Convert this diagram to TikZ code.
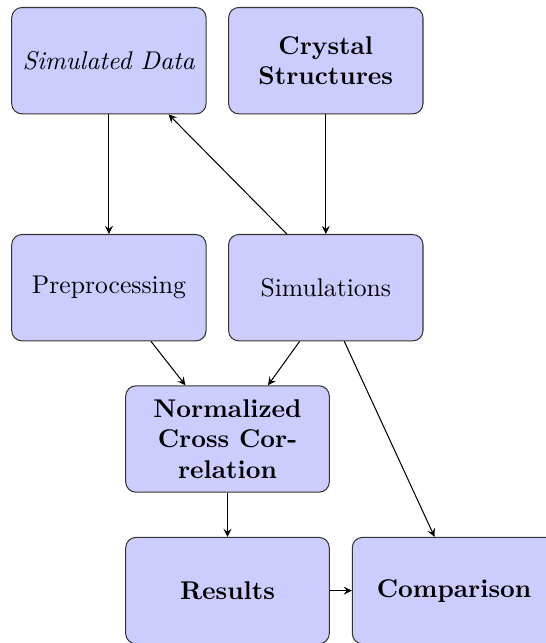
\documentclass[tikz,border=0pt]{standalone}
\usetikzlibrary{arrows}
\begin{document}
\begin{tikzpicture}[x=0.39pt,y=-0.39pt,
  box/.style={rectangle, rounded corners=4pt, draw=black!80, fill=blue!20,
    align=center, inner sep=0pt, minimum height=41.5pt},
  narrowbox/.style={box, minimum width=75.8pt},
  widebox/.style={box, minimum width=79.4pt},
  link/.style={-stealth, black}]
  \useasboundingbox (0,0) rectangle (546,643);

  \node[narrowbox] (simdata) at (108.9,60.7) {\textit{Simulated Data}};
  \node[narrowbox] (crystal) at (325.8,60.7) {\textbf{Crystal}\\\textbf{Structures}};
  \node[narrowbox] (prep)    at (108.9,287.7) {Preprocessing};
  \node[narrowbox] (sim)     at (325.8,287.7) {Simulations};
  \node[widebox]   (ncc)     at (227.5,439) {\textbf{Normalized}\\\textbf{Cross Cor-}\\\textbf{relation}};
  \node[widebox]   (results) at (227.5,590.6) {\textbf{Results}};
  \node[widebox]   (comp)    at (454.1,590.6) {\textbf{Comparison}};

  \draw[link] (simdata) -- (prep);
  \draw[link] (crystal) -- (sim);
  \draw[link] (sim.126) -- (simdata.318);
  \draw[link] (prep) -- (ncc);
  \draw[link] (sim.244.2) -- (ncc.53.8);
  \draw[link] (sim.289.9) -- (comp.110.5);
  \draw[link] (ncc) -- (results);
  \draw[link] (results) -- (comp);
\end{tikzpicture}
\end{document}
